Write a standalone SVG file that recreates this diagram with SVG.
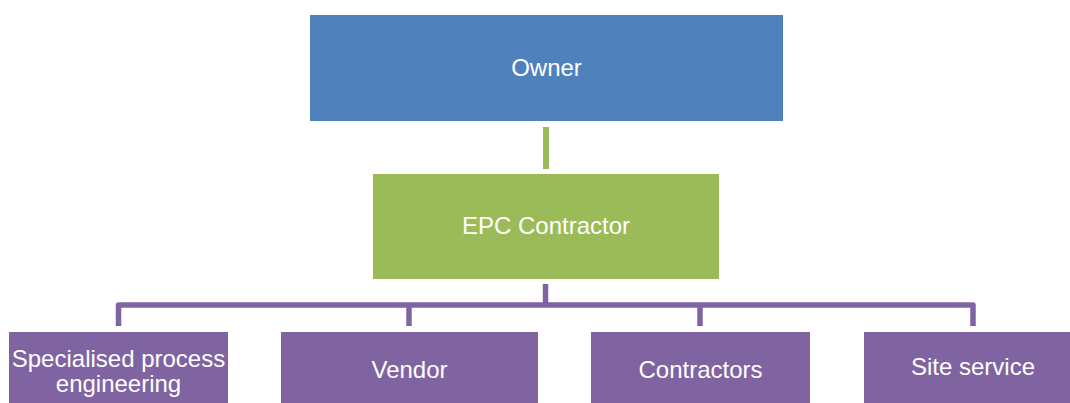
<svg xmlns="http://www.w3.org/2000/svg" width="1070" height="403" viewBox="0 0 1070 403">
  <style>
    .lbl { font-family: "Liberation Sans", Arial, sans-serif; font-size: 24px; fill: #ffffff; text-anchor: middle; }
    .blue { fill: #4F81BD; }
    .green { fill: #9BBB59; }
    .purple { fill: #8064A2; }
    .conn-g { fill: none; stroke: #9BBB59; stroke-width: 6; }
    .conn-p { fill: none; stroke: #8064A2; stroke-width: 5.5; stroke-linejoin: round; }
  </style>
  <g id="connectors">
    <line class="conn-g" x1="546" y1="127" x2="546" y2="169"/>
    <line class="conn-p" x1="545.5" y1="284" x2="545.5" y2="305"/>
    <path class="conn-p" d="M118.5 326 V305 H973 V326"/>
    <line class="conn-p" x1="409" y1="305" x2="409" y2="326"/>
    <line class="conn-p" x1="700" y1="305" x2="700" y2="326"/>
  </g>
  <g id="owner">
    <rect class="blue" x="310" y="15" width="473" height="106"/>
    <text class="lbl" x="546.5" y="76">Owner</text>
  </g>
  <g id="epc">
    <rect class="green" x="373" y="174" width="346" height="105"/>
    <text class="lbl" x="546" y="234">EPC Contractor</text>
  </g>
  <g id="specialised">
    <rect class="purple" x="9" y="332" width="219" height="90"/>
    <text class="lbl" x="118.5" y="367">Specialised process</text>
    <text class="lbl" x="118.5" y="392">engineering</text>
  </g>
  <g id="vendor">
    <rect class="purple" x="281" y="332" width="257" height="90"/>
    <text class="lbl" x="409.5" y="378">Vendor</text>
  </g>
  <g id="contractors">
    <rect class="purple" x="591" y="332" width="219" height="90"/>
    <text class="lbl" x="700.5" y="378">Contractors</text>
  </g>
  <g id="site">
    <rect class="purple" x="864" y="332" width="218" height="90"/>
    <text class="lbl" x="973" y="375">Site service</text>
  </g>
</svg>
